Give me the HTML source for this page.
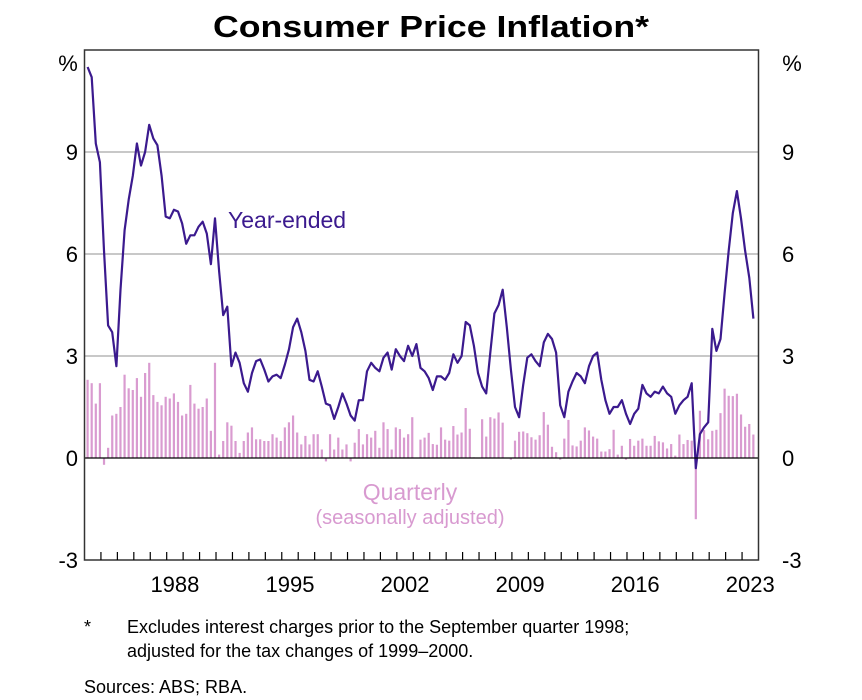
<!DOCTYPE html>
<html><head><meta charset="utf-8"><style>
html,body{margin:0;padding:0;background:#fff;}
svg{display:block;font-family:"Liberation Sans",Arial,sans-serif;}
</style></head><body>
<svg id="chart" width="862" height="700" viewBox="0 0 862 700" xmlns="http://www.w3.org/2000/svg">
<text x="431" y="37" text-anchor="middle" font-size="31" font-weight="bold" textLength="436" lengthAdjust="spacingAndGlyphs">Consumer Price Inflation*</text>
<g id="grid"></g>
<g id="bars"></g>
<g id="line"></g>
<g id="axes"></g>
<text x="228" y="228" font-size="23" fill="#3b1a8e">Year-ended</text>
<text x="410" y="500" text-anchor="middle" font-size="23" fill="#d89ad0">Quarterly</text>
<text x="410" y="524" text-anchor="middle" font-size="20" fill="#d89ad0">(seasonally adjusted)</text>
<text x="68" y="71" text-anchor="middle" font-size="22">%</text>
<text x="792" y="71" text-anchor="middle" font-size="22">%</text>
<text x="84" y="633" font-size="18">*</text>
<text x="127" y="633" font-size="18">Excludes interest charges prior to the September quarter 1998;</text>
<text x="127" y="657" font-size="18">adjusted for the tax changes of 1999–2000.</text>
<text x="84" y="693" font-size="18">Sources: ABS; RBA.</text>
</svg>
<script>
const yearEnded = [11.5,11.2,9.25,8.7,6.1,3.9,3.7,2.7,4.95,6.7,7.6,8.3,9.25,8.6,9.0,9.8,9.4,9.2,8.3,7.1,7.05,7.3,7.25,6.9,6.3,6.55,6.55,6.8,6.95,6.6,5.7,7.05,5.5,4.2,4.45,2.7,3.1,2.8,2.2,1.95,2.5,2.85,2.9,2.6,2.25,2.4,2.45,2.35,2.75,3.2,3.85,4.1,3.7,3.15,2.3,2.25,2.55,2.1,1.6,1.55,1.15,1.5,1.9,1.6,1.25,1.1,1.7,1.7,2.55,2.8,2.65,2.55,2.95,3.1,2.6,3.2,3.0,2.85,3.3,3.0,3.35,2.65,2.55,2.35,2.0,2.4,2.4,2.3,2.5,3.05,2.8,3.0,4.0,3.9,3.3,2.5,2.1,1.9,3.1,4.25,4.5,4.95,3.85,2.6,1.5,1.2,2.15,2.95,3.05,2.85,2.7,3.4,3.65,3.5,3.1,1.55,1.2,1.95,2.25,2.5,2.4,2.2,2.7,3.0,3.1,2.3,1.7,1.3,1.5,1.5,1.7,1.3,1.0,1.3,1.45,2.15,1.9,1.8,1.95,1.9,2.1,1.9,1.8,1.3,1.55,1.7,1.8,2.2,-0.3,0.7,0.9,1.05,3.8,3.15,3.5,4.85,6.1,7.2,7.85,7.05,6.1,5.3,4.1];
const quarterly = [2.3,2.2,1.6,2.2,-0.2,0.3,1.25,1.3,1.5,2.45,2.05,2.0,2.35,1.8,2.5,2.8,1.85,1.65,1.55,1.8,1.75,1.9,1.65,1.25,1.3,2.15,1.6,1.45,1.5,1.75,0.8,2.8,0.1,0.5,1.05,0.95,0.5,0.15,0.5,0.75,0.9,0.55,0.55,0.5,0.5,0.7,0.6,0.5,0.9,1.05,1.25,0.75,0.4,0.65,0.4,0.7,0.7,0.25,-0.1,0.7,0.25,0.6,0.25,0.4,-0.1,0.45,0.85,0.4,0.7,0.6,0.8,0.3,1.05,0.85,0.25,0.9,0.85,0.6,0.7,1.2,0.0,0.54,0.6,0.74,0.41,0.39,0.9,0.54,0.51,0.94,0.69,0.75,1.47,0.86,0.02,0.0,1.14,0.63,1.2,1.16,1.34,1.04,0.0,-0.05,0.51,0.77,0.78,0.73,0.61,0.54,0.67,1.35,0.98,0.33,0.17,-0.05,0.57,1.12,0.37,0.34,0.51,0.9,0.81,0.63,0.57,0.19,0.19,0.26,0.83,0.1,0.36,-0.05,0.56,0.36,0.51,0.57,0.36,0.36,0.65,0.49,0.46,0.28,0.41,0.07,0.69,0.41,0.53,0.51,-1.8,1.39,0.82,0.55,0.8,0.83,1.32,2.04,1.83,1.82,1.89,1.28,0.92,1.0,0.69];
const yTicks = [-3,0,3,6,9];
const xLabels = [1988,1995,2002,2009,2016,2023];
const startYear = 1983, endYear = 2024, yMin = -3, yMax = 12;

const NS = "http://www.w3.org/2000/svg";
const L = 84.5, R = 758.5, T = 50, B = 560;
function xs(t){ return L + (t - startYear) / (endYear - startYear) * (R - L); }
function ys(v){ return B - (v - yMin) / (yMax - yMin) * (B - T); }
function qt(i){ return startYear + 0.25 * (i + 0.75); }
function mk(tag, attrs, parent){ const e = document.createElementNS(NS, tag); for (const k in attrs) e.setAttribute(k, attrs[k]); parent.appendChild(e); return e; }

const grid = document.getElementById('grid');
yTicks.forEach(v => {
  if (v === 0 || v === yMin) return;
  const g = mk('line', {x1:L, x2:R, y1:ys(v), y2:ys(v), stroke:'#b5b5b5', 'stroke-width':1.5}, grid);
  
  
});

const bars = document.getElementById('bars');
quarterly.forEach((v, i) => {
  const x = xs(qt(i));
  const y0 = ys(0), y1 = ys(v);
  const r = mk('rect', {x:x-1.1, y:Math.min(y0,y1), width:2.2, height:Math.max(0.5,Math.abs(y1-y0)), fill:'#d99bd0'}, bars);
  
  
});

const axes = document.getElementById('axes');
const zl = mk('line', {x1:L, x2:R, y1:ys(0), y2:ys(0), stroke:'#000', 'stroke-width':1.3}, axes);



const lineG = document.getElementById('line');
const pts = yearEnded.map((v, i) => xs(qt(i)).toFixed(1) + ',' + ys(v).toFixed(1)).join(' ');
const pl = mk('polyline', {points:pts, fill:'none', stroke:'#3b1a8e', 'stroke-width':2.2, 'stroke-linejoin':'round'}, lineG);



const frame = mk('rect', {x:L, y:T, width:R-L, height:B-T, fill:'none', stroke:'#333', 'stroke-width':1.5}, axes);



for (let yr = startYear + 1; yr < endYear; yr++) {
  const t = mk('line', {x1:xs(yr), x2:xs(yr), y1:B, y2:B-8, stroke:'#000', 'stroke-width':1.2}, axes);
  
  
}
xLabels.forEach(yr => {
  const t = mk('text', {x:xs(yr + 0.5), y:B + 32, 'text-anchor':'middle', 'font-size':22}, axes);
  t.textContent = yr;
  
  
});
yTicks.forEach(v => {
  const a = mk('text', {x:78, y:ys(v) + 8, 'text-anchor':'end', 'font-size':22}, axes);
  a.textContent = v;
  
  
  const b = mk('text', {x:782, y:ys(v) + 8, 'text-anchor':'start', 'font-size':22}, axes);
  b.textContent = v;
  
  
});
</script>
</body></html>
